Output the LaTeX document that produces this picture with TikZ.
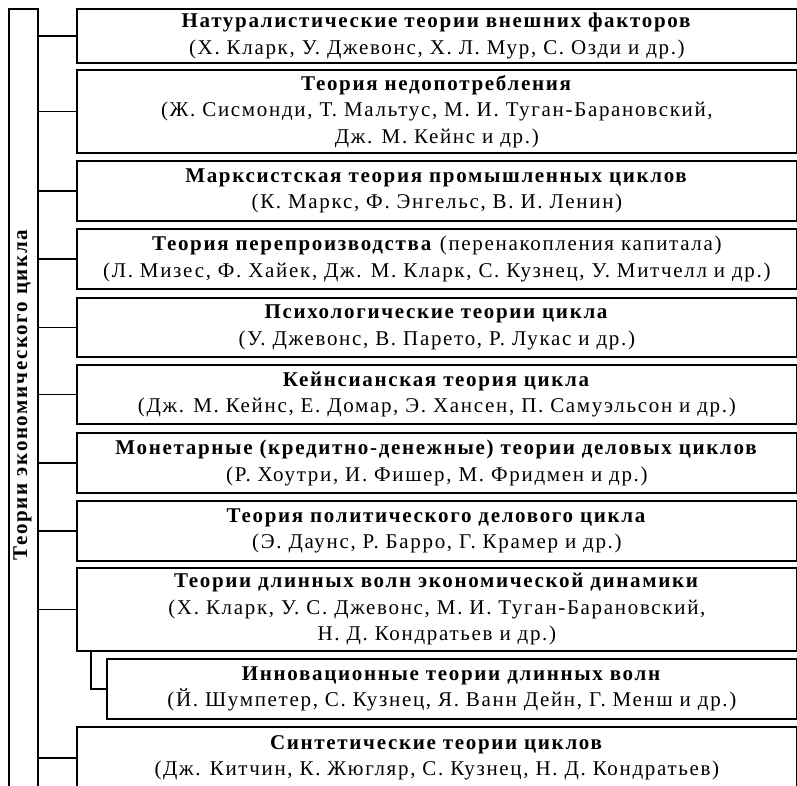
\documentclass[tikz,border=0pt]{standalone}
\usepackage{fontspec}
\setmainfont{Liberation Serif}[LetterSpace=8]
\begin{document}
\begin{tikzpicture}[x=1pt,y=-1pt,
  boxst/.style={draw, line width=1.8pt, anchor=north west, minimum width=720pt,
    align=center, inner sep=0pt, font=\fontsize{21}{26.5}\selectfont},
  conn/.style={draw, line width=1.8pt}]
\useasboundingbox (0,0) rectangle (797,785);
\node[draw, line width=1.8pt, anchor=north west, minimum width=29pt, minimum height=800pt, inner sep=0pt] (title) at (8,8) {};
\node[rotate=90, font=\fontsize{21}{22}\selectfont\bfseries] (ttext) at (22.5,395) {Теории экономического цикла};
\node[boxst, minimum height=54pt] (b1) at (76,8) {\textbf{Натуралистические теории внешних факторов}\\(Х. Кларк, У. Джевонс, Х. Л. Мур, С. Озди и др.)};
\node[boxst, minimum height=83pt] (b2) at (76,69) {\textbf{Теория недопотребления}\\(Ж. Сисмонди, Т. Мальтус, М. И. Туган-Барановский,\\Дж. М. Кейнс и др.)};
\node[boxst, minimum height=60pt] (b3) at (76,160) {\textbf{Марксистская теория промышленных циклов}\\(К. Маркс, Ф. Энгельс, В. И. Ленин)};
\node[boxst, minimum height=60pt] (b4) at (76,228) {\textbf{Теория перепроизводства} (перенакопления капитала)\\(Л. Мизес, Ф. Хайек, Дж. М. Кларк, С. Кузнец, У. Митчелл и др.)};
\node[boxst, minimum height=59pt] (b5) at (76,297) {\textbf{Психологические теории цикла}\\(У. Джевонс, В. Парето, Р. Лукас и др.)};
\node[boxst, minimum height=59pt] (b6) at (76,364) {\textbf{Кейнсианская теория цикла}\\(Дж. М. Кейнс, Е. Домар, Э. Хансен, П. Самуэльсон и др.)};
\node[boxst, minimum height=60pt] (b7) at (76,432) {\textbf{Монетарные (кредитно-денежные) теории деловых циклов}\\(Р. Хоутри, И. Фишер, М. Фридмен и др.)};
\node[boxst, minimum height=60pt] (b8) at (76,500) {\textbf{Теория политического делового цикла}\\(Э. Даунс, Р. Барро, Г. Крамер и др.)};
\node[boxst, minimum height=83pt] (b9) at (76,567) {\textbf{Теории длинных волн экономической динамики}\\(Х. Кларк, У. С. Джевонс, М. И. Туган-Барановский,\\Н. Д. Кондратьев и др.)};
\node[boxst, minimum height=60pt, minimum width=690pt] (b10) at (106,658) {\textbf{Инновационные теории длинных волн}\\(Й. Шумпетер, С. Кузнец, Я. Ванн Дейн, Г. Менш и др.)};
\node[boxst, minimum height=62pt] (b11) at (76,726) {\textbf{Синтетические теории циклов}\\(Дж. Китчин, К. Жюгляр, С. Кузнец, Н. Д. Кондратьев)};
\foreach \b in {b1,b2,b3,b4,b5,b6,b7,b8,b9,b11}
  \draw[conn] (title.east |- \b.west) -- (\b.west);
\draw[conn] ([xshift=15pt]b9.south west) |- (b10.west);
\end{tikzpicture}
\end{document}
